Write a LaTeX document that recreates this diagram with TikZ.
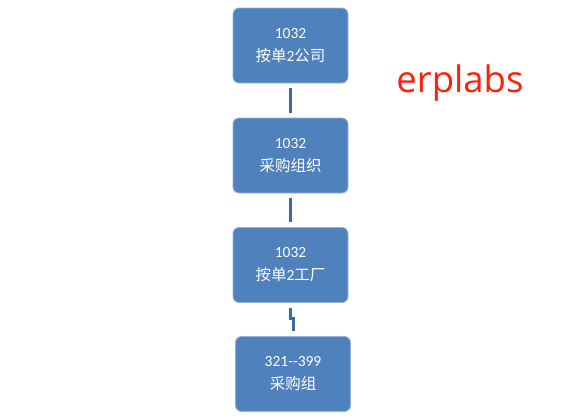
\documentclass[tikz,border=0pt]{standalone}
\usepackage{fontspec}
\setmainfont{Carlito}
\newfontfamily\cjk{Noto Sans CJK SC}
\newfontfamily\logofont{Open Sans}
\usepackage{tikz}
\definecolor{boxblue}{RGB}{79,129,189}
\definecolor{lineblue}{RGB}{60,106,165}
\definecolor{logored}{RGB}{250,35,10}

\begin{document}
\begin{tikzpicture}[x=1pt,y=-1pt,
unit/.style={draw=boxblue!60!white,line width=0.8pt,fill=boxblue,rounded corners=6pt,
  minimum width=115pt,minimum height=75pt,inner sep=0pt,align=center,text=white,
  font=\fontsize{15.5}{23}\selectfont},
link/.style={draw=lineblue,line width=3pt,shorten <=5pt,shorten >=5pt}]
\useasboundingbox (0,0) rectangle (576,416);
\node[unit] (company) at (290.5,45.5) {1032\\{\cjk 按单}2{\cjk 公司}};
\node[unit] (purchorg) at (290.5,155.5) {1032\\{\cjk 采购组织}};
\node[unit] (plant) at (290.5,265) {1032\\{\cjk 按单}2{\cjk 工厂}};
\node[unit] (pgroup) at (293,374) {321-{}-399\\{\cjk 采购组}};
\node[text=logored,font=\logofont\fontsize{36.5}{40}\selectfont] (logo) at (460,83) {erplabs};
\draw[link] (company) -- (purchorg);
\draw[link] (purchorg) -- (plant);
\draw[link] (plant.south) -- ++(0,16) -| (pgroup.north);
\end{tikzpicture}
\end{document}
